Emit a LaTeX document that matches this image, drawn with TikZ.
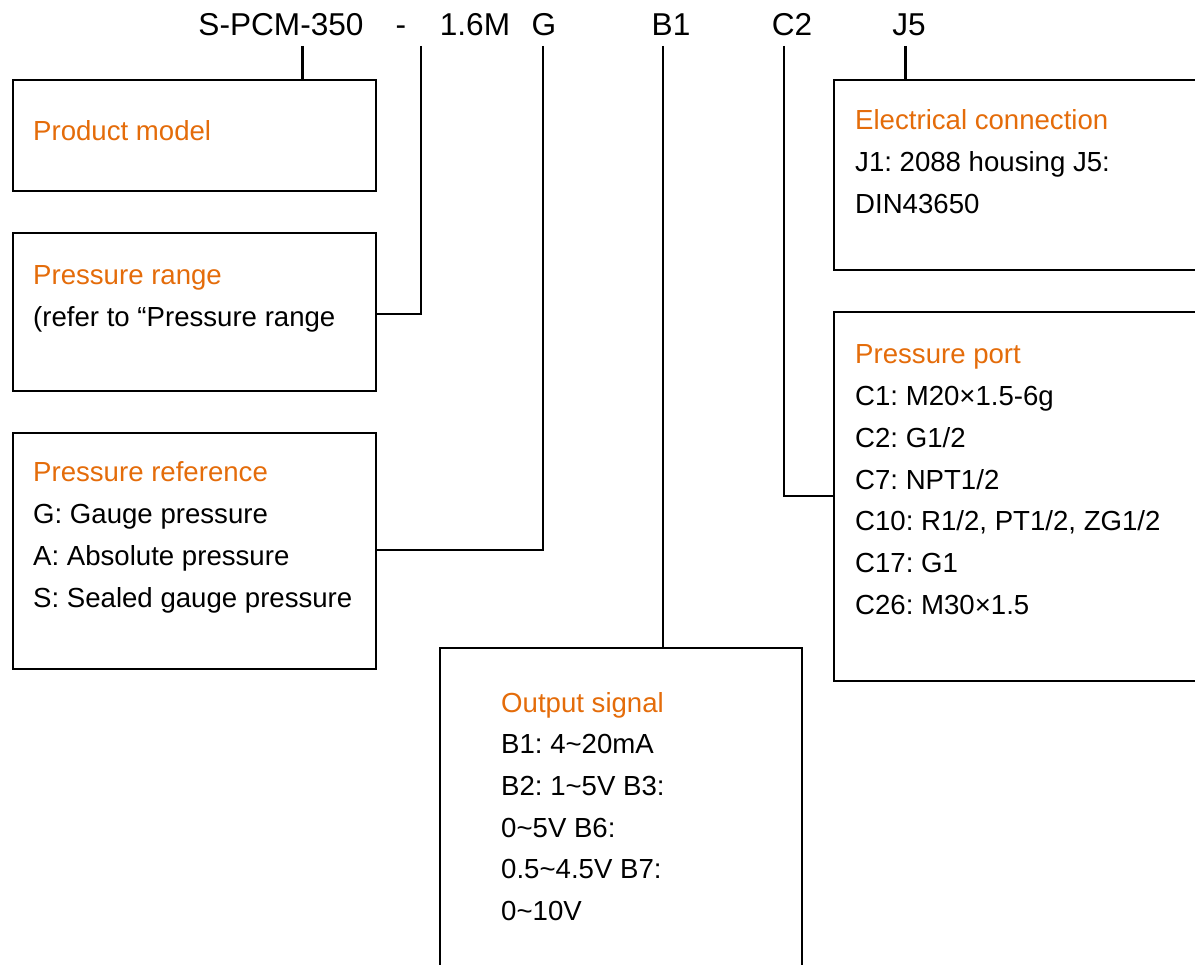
\documentclass[tikz,border=0pt]{standalone}
\usepackage{fontspec}
\setmainfont{Liberation Sans}
\definecolor{titleorange}{RGB}{228,108,10}
\newcommand{\tld}{\textasciitilde{}}
\frenchspacing
\begin{document}
\begin{tikzpicture}[x=1pt,y=-1pt,
    codebox/.style={draw,line width=2pt,anchor=north west,inner sep=0pt},
    boxtext/.style={anchor=base west,inner sep=0pt,font=\fontsize{27.6}{33}\selectfont},
    boxtitle/.style={boxtext,text=titleorange},
    codepart/.style={anchor=base,inner sep=0pt,font=\fontsize{31.6}{38}\selectfont},
    link/.style={line width=1.3pt},
    biglink/.style={line width=3pt}]
  \path[use as bounding box,clip] (0,0) rectangle (1195,965);

  %% the code line
  \node[codepart] (pcm) at (281,36) {S-PCM-350};
  \node[codepart] (dash) at (401,36) {-};
  \node[codepart] (range) at (475,36) {1.6M};
  \node[codepart] (ref) at (544,36) {G};
  \node[codepart] (out) at (671,36) {B1};
  \node[codepart] (port) at (792,36) {C2};
  \node[codepart] (elec) at (909,36) {J5};

  %% the boxes
  \node[codebox,minimum width=363pt,minimum height=111pt] (modelbox) at (12,79) {};
  \node[codebox,minimum width=363pt,minimum height=158pt] (rangebox) at (12,232) {};
  \node[codebox,minimum width=363pt,minimum height=236pt] (refbox) at (12,432) {};
  \node[codebox,minimum width=362pt,minimum height=400pt] (outbox) at (439,647) {};
  \node[codebox,minimum width=400pt,minimum height=190pt] (elecbox) at (833,79) {};
  \node[codebox,minimum width=400pt,minimum height=369pt] (portbox) at (833,311) {};

  %% texts in the boxes
  \node[boxtitle] (model-title) at (33,141) {Product model};

  \node[boxtitle] (range-title) at (33,285) {Pressure range};
  \node[boxtext] (range-1) at (33,327) {(refer to “Pressure range};

  \node[boxtitle] (ref-title) at (33,482) {Pressure reference};
  \foreach \t [count=\i] in {G: Gauge pressure, A: Absolute pressure, S: Sealed gauge pressure}
    \node[boxtext] (ref-\i) at (33,482+41.7*\i) {\t};

  \node[boxtitle] (out-title) at (501,712) {Output signal};
  \foreach \t [count=\i] in {B1: 4\tld20mA, B2: 1\tld5V B3:, 0\tld5V B6:, 0.5\tld4.5V B7:, 0\tld10V}
    \node[boxtext] (out-\i) at (501,712+41.7*\i) {\t};

  \node[boxtitle] (elec-title) at (855,130) {Electrical connection};
  \foreach \t [count=\i] in {J1: 2088 housing J5:, DIN43650}
    \node[boxtext] (elec-\i) at (855,130+41.7*\i) {\t};

  \node[boxtitle] (port-title) at (855,364) {Pressure port};
  \foreach \t [count=\i] in {C1: M20×1.5-6g, C2: G1/2, C7: NPT1/2, {C10: R1/2, PT1/2, ZG1/2}, C17: G1, C26: M30×1.5}
    \node[boxtext] (port-\i) at (855,364+41.7*\i) {\t};

  %% connectors
  \coordinate (pcm-tap) at (302,46);
  \coordinate (dash-tap) at (421,46);
  \coordinate (ref-tap) at (543,46);
  \coordinate (out-tap) at (663,46);
  \coordinate (port-tap) at (784,46);
  \coordinate (elec-tap) at (905,46);
  \draw[biglink] (pcm-tap) -- (pcm-tap |- modelbox.north);
  \draw[link] (dash-tap) |- ([yshift=-82pt]rangebox.north east);
  \draw[link] (ref-tap) |- ([yshift=-118pt]refbox.north east);
  \draw[link] (out-tap) -- (out-tap |- outbox.north);
  \draw[link] (port-tap) |- ([yshift=-185pt]portbox.north west);
  \draw[biglink] (elec-tap) -- (elec-tap |- elecbox.north);
\end{tikzpicture}
\end{document}
